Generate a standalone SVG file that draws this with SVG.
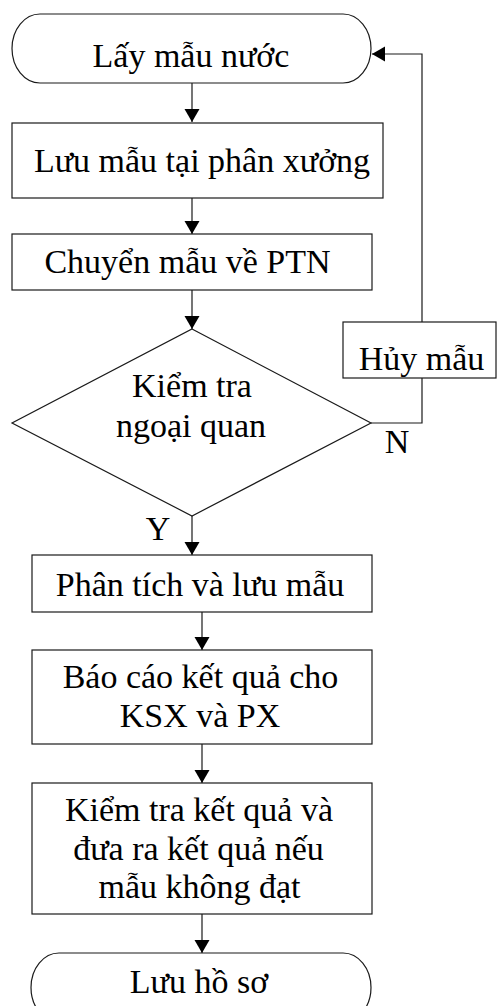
<svg xmlns="http://www.w3.org/2000/svg" width="497" height="1006" viewBox="0 0 497 1006">
<style>
.n{fill:#fff;stroke:#1a1a1a;stroke-width:1.2}
.t{font-family:"Liberation Serif","Times New Roman",serif;font-size:34px;fill:#000;text-anchor:middle}
.c{fill:none;stroke:#1a1a1a;stroke-width:1.2}
</style>
<defs>
<marker id="ah" markerUnits="userSpaceOnUse" markerWidth="14" markerHeight="16" refX="13" refY="7.5" orient="auto">
<path d="M0,0 L13,7.5 L0,15 Z" fill="#000"/>
</marker>
</defs>
<rect width="497" height="1006" fill="#fff"/>
<g id="connectors">
<path class="c" d="M192,83 V122" marker-end="url(#ah)"/>
<path class="c" d="M192,198 V234" marker-end="url(#ah)"/>
<path class="c" d="M192,290 V329" marker-end="url(#ah)"/>
<path class="c" d="M192,516 V555" marker-end="url(#ah)"/>
<path class="c" d="M202,612 V650" marker-end="url(#ah)"/>
<path class="c" d="M202,744 V783" marker-end="url(#ah)"/>
<path class="c" d="M202,914 V953" marker-end="url(#ah)"/>
<path class="c" d="M371,423 H422 V378"/>
<path class="c" d="M422,322 V54 H372" marker-end="url(#ah)"/>
</g>
<g id="start">
<path class="n" d="M40,14 H343 A28,34.5 0 0 1 343,83 H40 A28,34.5 0 0 1 40,14 Z"/>
<text class="t" x="191" y="67">Lấy mẫu nước</text>
</g>
<g id="luu-mau">
<rect class="n" x="12" y="123" width="371" height="75"/>
<text class="t" x="202" y="172">Lưu mẫu tại phân xưởng</text>
</g>
<g id="chuyen-mau">
<rect class="n" x="12" y="234" width="360" height="56"/>
<text class="t" x="187.5" y="273">Chuyển mẫu về PTN</text>
</g>
<g id="kiem-tra">
<path class="n" d="M192,329 L371,423 L192,516 L12,423 Z"/>
<text class="t" x="192" y="397">Kiểm tra</text>
<text class="t" x="191" y="437">ngoại quan</text>
</g>
<g id="huy-mau">
<rect class="n" x="343" y="322" width="153" height="56"/>
<text class="t" x="421.5" y="370">Hủy mẫu</text>
</g>
<g id="label-n"><text class="t" x="397" y="453">N</text></g>
<g id="label-y"><text class="t" x="158" y="540">Y</text></g>
<g id="phan-tich">
<rect class="n" x="32" y="555" width="340" height="57"/>
<text class="t" x="200" y="596">Phân tích và lưu mẫu</text>
</g>
<g id="bao-cao">
<rect class="n" x="32" y="650" width="340" height="94"/>
<text class="t" x="200.5" y="688">Báo cáo kết quả cho</text>
<text class="t" x="200" y="727">KSX và PX</text>
</g>
<g id="kiem-tra-kq">
<rect class="n" x="32" y="783" width="340" height="131"/>
<text class="t" x="199" y="821">Kiểm tra kết quả và</text>
<text class="t" x="198.5" y="860">đưa ra kết quả nếu</text>
<text class="t" x="199.5" y="898">mẫu không đạt</text>
</g>
<g id="end">
<path class="n" d="M59,953 H343 A28,34.5 0 0 1 343,1022 H59 A28,34.5 0 0 1 59,953 Z"/>
<text class="t" x="199" y="993">Lưu hồ sơ</text>
</g>
</svg>
